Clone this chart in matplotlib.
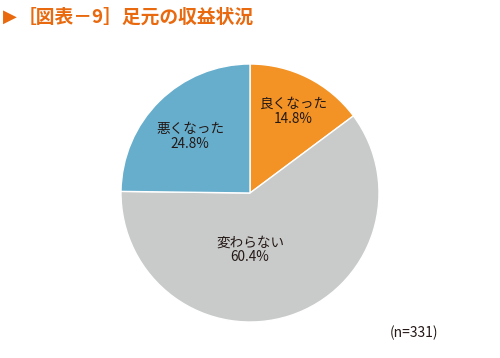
import numpy as np
import matplotlib
matplotlib.use("Agg")
import matplotlib.pyplot as plt

plt.rcParams["font.family"] = ["Noto Sans CJK JP", "DejaVu Sans"]

# data, clockwise from 12 o'clock
labels = ["良くなった", "変わらない", "悪くなった"]
shares = [14.8, 60.4, 24.8]
colors = ["#F39325", "#C9CACA", "#67AECD"]
# label placement (angle in degrees, distance as fraction of radius)
label_pos = [(62.0, 0.72), (-90.0, 0.44), (136.5, 0.64)]

TITLE = "［図表－9］足元の収益状況"
NOTE = "(n=331)"
ORANGE = "#E8690E"

W, H = 500, 358
fig = plt.figure(figsize=(W / 100, H / 100), dpi=100)

# pie centre (250, 193) px, radius 129 px
cx, cy, r = 250, 193, 129
ax = fig.add_axes([(cx - r) / W, (H - cy - r) / H, 2 * r / W, 2 * r / H])
ax.pie(shares, colors=colors, startangle=90, counterclock=False,
       radius=1, wedgeprops=dict(edgecolor="white", linewidth=1.0))
ax.set_xlim(-1, 1)
ax.set_ylim(-1, 1)
ax.set_aspect("equal")
ax.axis("off")

for name, val, (ang, dist) in zip(labels, shares, label_pos):
    a = np.deg2rad(ang)
    ax.text(dist * np.cos(a), dist * np.sin(a), f"{name}\n{val:.1f}%",
            ha="center", va="center", fontsize=9.8, color="#231815",
            linespacing=1.1)

# title with triangle marker
fig.text(3 / W, 1 - 17 / H, "▶", fontsize=13, color=ORANGE,
         family=["DejaVu Sans"], ha="left", va="center")
fig.text(18 / W, 1 - 17 / H, TITLE, fontsize=13.5, color=ORANGE,
         fontweight="bold", ha="left", va="center")

fig.text(390 / W, 1 - 333 / H, NOTE, fontsize=10, color="#231815",
         ha="left", va="center")

fig.savefig("out.png", dpi=100)
